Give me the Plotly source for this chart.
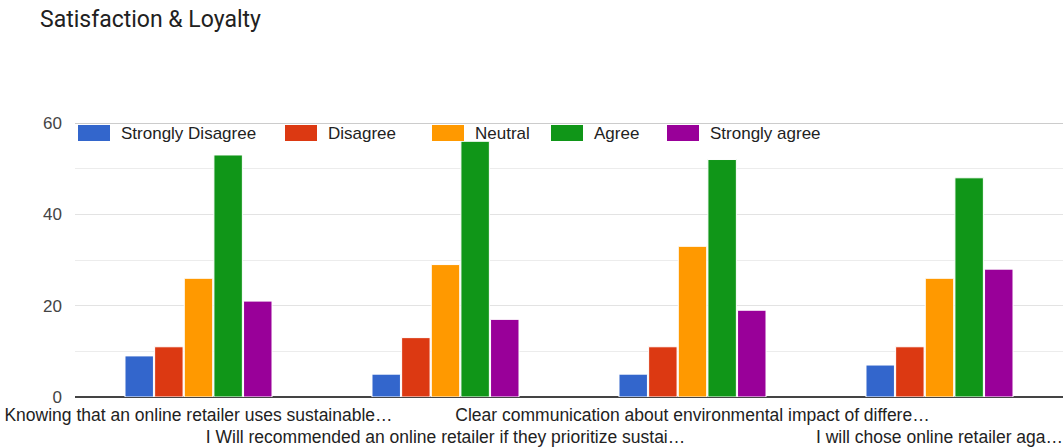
import plotly.graph_objects as go

# Survey questions (truncated as displayed) and response counts
questions = [
    "Knowing that an online retailer uses sustainable…",
    "I Will recommended an online retailer if they prioritize sustai…",
    "Clear communication about environmental impact of differe…",
    "I will chose online retailer aga…",
]
responses = ["Strongly Disagree", "Disagree", "Neutral", "Agree", "Strongly agree"]
strongly_disagree = [9, 5, 5, 7]
disagree = [11, 13, 11, 11]
neutral = [26, 29, 33, 26]
agree = [53, 56, 52, 48]
strongly_agree = [21, 17, 19, 28]
y_ticks = [0, 20, 40, 60]

series = [strongly_disagree, disagree, neutral, agree, strongly_agree]
colors = ["#3366cc", "#dc3912", "#ff9900", "#109618", "#990099"]

W, H = 1063, 447
ML, MR, MT, MB = 75, 0, 123, 50
PW, PH = W - ML - MR, H - MT - MB

fig = go.Figure()
for name, vals, col in zip(responses, series, colors):
    fig.add_trace(go.Bar(
        x=questions, y=vals, name=name,
        marker=dict(color=col, line=dict(color="white", width=1)),
        showlegend=False,
    ))

# alternate tick labels between two rows
tick_text = [q if i % 2 == 0 else "<br>" + q for i, q in enumerate(questions)]

fig.update_layout(
    width=W, height=H,
    margin=dict(l=ML, r=MR, t=MT, b=MB),
    paper_bgcolor="white", plot_bgcolor="white",
    barmode="group", bargap=0.4, bargroupgap=0.04,
    title=dict(text="Satisfaction & Loyalty", x=40 / W, xref="container",
               xanchor="left", y=1 - 19 / H, yref="container", yanchor="middle",
               font=dict(family="Roboto", size=23, color="#212121")),
    xaxis=dict(tickmode="array", tickvals=questions, ticktext=tick_text,
               tickangle=0, ticklabelstandoff=5,
               tickfont=dict(family="Liberation Sans", size=17.5, color="#222222"),
               showgrid=False, showline=False, ticks="", automargin=False),
    yaxis=dict(range=[0, 60], tickmode="array", tickvals=y_ticks,
               tickfont=dict(family="Arial", size=17, color="#444444"),
               showgrid=True, gridcolor="#e3e3e3", gridwidth=1,
               minor=dict(dtick=10, showgrid=True, gridcolor="#ececec", gridwidth=1),
               zeroline=True, zerolinecolor="#444444", zerolinewidth=2,
               ticklabelstandoff=12, automargin=False),
    font=dict(family="Arial"),
)

# top border line at 60
fig.add_shape(type="line", xref="paper", yref="y", x0=0, x1=1, y0=60, y1=60,
              line=dict(color="#cccccc", width=2), layer="below")

# custom legend row across the top of the plot
legend_px = [78, 285, 432, 551, 667]
for px, name, col in zip(legend_px, responses, colors):
    x0 = (px - ML) / PW
    x1 = (px + 32 - ML) / PW
    y0 = (MT + PH - 141) / PH
    y1 = (MT + PH - 125) / PH
    fig.add_shape(type="rect", xref="paper", yref="paper", x0=x0, x1=x1, y0=y0, y1=y1,
                  fillcolor=col, line=dict(width=0))
    fig.add_annotation(xref="paper", yref="paper", x=(px + 41 - ML) / PW,
                       y=(MT + PH - 133) / PH, text=name, showarrow=False,
                       xanchor="left", yanchor="middle",
                       font=dict(family="Arial", size=17, color="#222222"))

fig.write_html("out.html")
